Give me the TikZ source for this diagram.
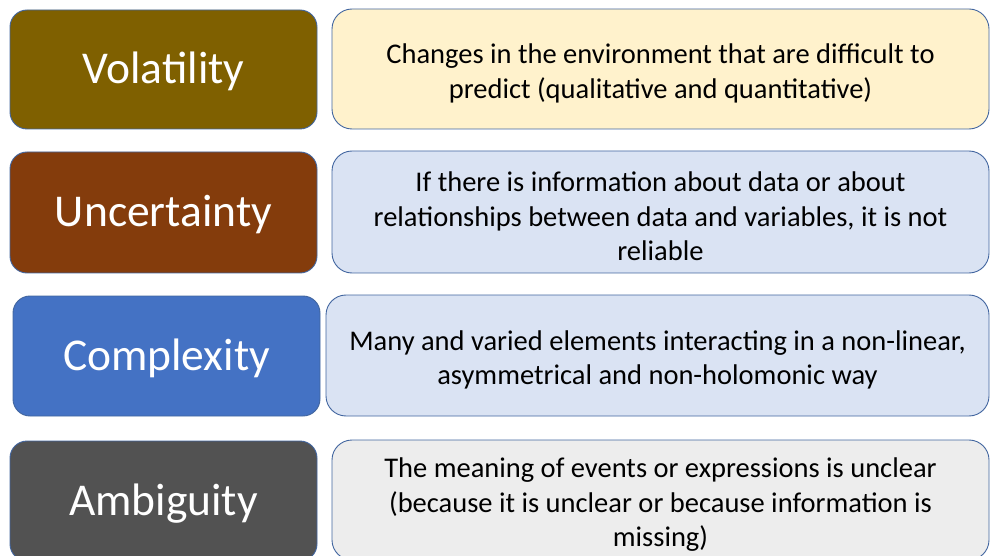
\documentclass[tikz,border=0pt]{standalone}
\usepackage{fontspec}
\setmainfont{Carlito}
\usetikzlibrary{positioning}

\definecolor{volfill}{HTML}{7F6000}
\definecolor{uncfill}{HTML}{843C0C}
\definecolor{cpxfill}{HTML}{4472C4}
\definecolor{ambfill}{HTML}{525252}
\definecolor{yelfill}{HTML}{FFF2CC}
\definecolor{bluefill}{HTML}{DAE3F3}
\definecolor{greyfill}{HTML}{EDEDED}
\definecolor{edgeblue}{HTML}{41659F}
\newcommand{\lowstrut}{\rule{0pt}{29pt}}

\begin{document}
\begin{tikzpicture}[x=1pt, y=-1pt,
  namebox/.style={draw=edgeblue, line width=0.9pt, rounded corners=17pt, minimum width=307pt, minimum height=119pt, text=white, font=\fontsize{45.5}{54}\selectfont, inner sep=0pt, text height=34pt, text depth=6pt},
  descbox/.style={draw=edgeblue, line width=0.9pt, rounded corners=20pt, minimum width=657pt, minimum height=120pt, text=black, align=center, font=\fontsize{28.5}{34.5}\selectfont, inner sep=0pt}]
\useasboundingbox (0,0) rectangle (991,556);
\clip (0,0) rectangle (991,556);
% left column
\node[namebox, fill=volfill] (vol) at (163.5,69.5) {Volatility};
\node[namebox, fill=uncfill, minimum height=121pt] (unc) at (163.5,212.5) {Uncertainty};
\node[namebox, fill=cpxfill, minimum height=120pt] (cpx) at (166.5,356) {Complexity};
\node[namebox, fill=ambfill, minimum height=120pt] (amb) at (163.5,501) {Ambiguity};
% right column
\node[descbox, fill=yelfill] (voltxt) at (660.5,69) {\lowstrut Changes in the environment that are difficult to\\predict (qualitative and quantitative)};
\node[descbox, fill=bluefill, minimum height=122pt] (unctxt) at (660.5,212) {\lowstrut If there is information about data or about\\relationships between data and variables, it is not\\reliable};
\node[descbox, fill=bluefill, minimum width=663pt, minimum height=121pt] (cpxtxt) at (657.5,355.5) {\lowstrut Many and varied elements interacting in a non-linear,\\asymmetrical and non-holomonic way};
\node[descbox, fill=greyfill] (ambtxt) at (660.5,500) {\lowstrut The meaning of events or expressions is unclear\\(because it is unclear or because information is\\missing)};
\end{tikzpicture}
\end{document}
